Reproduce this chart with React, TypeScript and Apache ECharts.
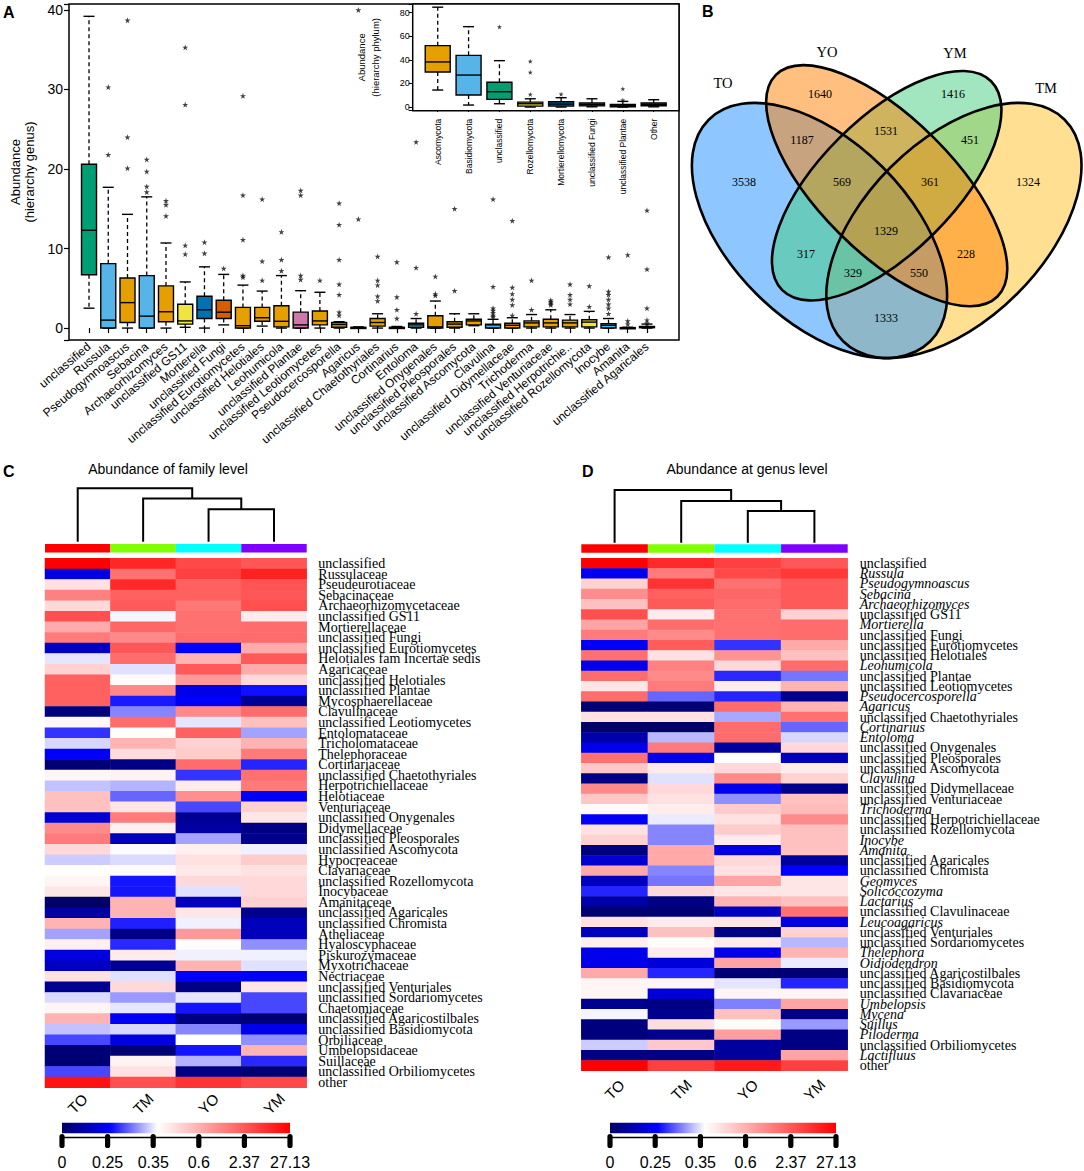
import React, { useEffect, useRef } from 'react';
import * as echarts from 'echarts';

// ---------- Panel A: genus boxplot ----------
const genusCategories = ['unclassified','Russula','Pseudogymnoascus','Sebacina','Archaeorhizomyces','unclassified GS11','Mortierella','unclassified Fungi','unclassified Eurotiomycetes','unclassified Helotiales','Leohumicola','unclassified Plantae','unclassified Leotiomycetes','Pseudocercosporella','Agaricus','unclassified Chaetothyriales','Cortinarius','Entoloma','unclassified Onygenales','unclassified Pleosporales','unclassified Ascomycota','Clavulina','unclassified Didymellaceae','Trichoderma','unclassified Venturiaceae','unclassified Herpotrichie..','unclassified Rozellomycota','Inocybe','Amanita','unclassified Agaricales'];
// [min, Q1, median, Q3, max]
const genusBoxes = [
  [2.5, 6.7, 12.3, 20.6, 39.2],[0, 0, 1.0, 8.1, 17.7],[0, 0.7, 3.2, 6.3, 14.3],[0, 0, 1.5, 6.6, 16.5],[0, 0.8, 2.05, 5.3, 10.7],
  [0.1, 0.5, 0.9, 3.0, 5.8],[0, 1.2, 2.3, 4.0, 7.7],[0.4, 1.2, 2.0, 3.5, 6.75],[0, 0, 0.3, 2.6, 5.4],[0.25, 0.85, 1.3, 2.6, 4.65],
  [0, 0.15, 0.85, 2.8, 6.6],[0, 0, 0.4, 2.0, 4.7],[0, 0.4, 0.9, 2.15, 4.5],[0, 0.1, 0.45, 0.7, 0.8],[0, 0, 0.05, 0.1, 0.15],
  [0, 0.25, 0.7, 1.2, 1.8],[0, 0, 0.05, 0.1, 0.2],[0, 0.1, 0.4, 0.6, 1.2],[0, 0, 0.15, 1.55, 3.4],[0, 0.1, 0.5, 0.8, 1.8],
  [0.3, 0.4, 0.9, 1.1, 1.8],[0, 0, 0.4, 0.5, 1.1],[0, 0, 0.35, 0.6, 1.3],[0, 0.15, 0.65, 0.9, 1.7],[0, 0.15, 0.65, 1.1, 2.3],
  [0, 0.15, 0.65, 1.0, 1.7],[0, 0.15, 0.75, 1.05, 2.1],[0, 0, 0.35, 0.55, 1.2],[0, 0, 0.03, 0.06, 0.1],[0, 0.05, 0.1, 0.2, 0.5],
];
const genusOutliers = [
  [],[30.3, 21.8],[38.7, 24.0, 20.1],[21.2, 19.7, 17.8, 17.1],[16.0, 15.5, 14.1],
  [35.3, 28.1, 10.4, 9.3],[10.8, 9.4],[7.5],[29.2, 16.7, 11.1, 6.6, 6.4],[16.2, 8.4, 6.0],
  [12.1, 8.6, 7.2],[17.3, 16.7, 6.6, 6.1],[6.0],[15.7, 13.0, 8.6, 5.5, 4.2, 2.0, 1.6],[40.0, 13.7],
  [9.0, 6.0, 5.4, 4.0, 3.4],[8.3, 3.9, 2.3, 1.2],[23.4, 7.6, 1.8],[6.5, 4.3, 4.1],[15.0, 4.7],
  [],[16.2, 5.2, 2.5, 2.2, 1.9, 1.6, 1.4],[13.5, 5.1, 4.3, 3.6, 2.9, 1.6],[6.0, 2.3],[3.5, 3.3, 3.1, 2.9],
  [5.5, 4.2, 3.6, 3.0],[5.3, 2.7],[8.9, 4.6, 4.2, 3.6, 3.0, 2.5, 1.8],[9.2, 0.9, 0.5],[14.8, 7.4, 2.5, 1.0, 0.6],
];
const genusGroup = ['green','lblue','orange','lblue','orange','yellow','blue','verm','orange','orange','orange','pink','orange','orange','lblue','orange','lblue','lblue','orange','orange','orange','lblue','orange','orange','orange','orange','yellow','lblue','lblue','lblue'];
const genusTicks = [0, 10, 20, 30, 40];

// ---------- Panel A inset: phylum boxplot ----------
const phylumCategories = ['Ascomycota','Basidiomycota','unclassified','Rozellomycota','Mortierellomycota','unclassified Fungi','unclassified Plantae','Other'];
const phylumBoxes = [
  [14.4, 29.7, 38.2, 52.0, 84.6],[1.7, 10.2, 27.1, 43.8, 68.1],[2.8, 6.5, 13.0, 21.0, 39.3],[0, 0.8, 2.8, 4.2, 7.0],
  [0, 0.8, 2.5, 4.5, 7.9],[0.2, 1.0, 2.0, 3.4, 7.0],[0, 0.3, 1.1, 2.3, 4.8],[0.2, 1.1, 2.3, 3.4, 6.2],
];
const phylumOutliers = [[], [], [67.9], [38.7, 29.4, 10.7], [10.9], [], [15.5, 5.9], []];
const phylumGroup = ['orange','lblue','green','yellow','blue','verm','pink','grey'];

// ---------- Panel B: Venn ----------
const vennSets = ['TO', 'YO', 'YM', 'TM'];
const vennCounts = [3538, 1640, 1416, 1324, 1187, 1531, 451, 569, 361, 1329, 317, 228, 329, 550, 1333];

// ---------- Panels C / D: heatmaps ----------
const sampleGroups = ['TO', 'TM', 'YO', 'YM'];
const colorBarTicks = ['0', '0.25', '0.35', '0.6', '2.37', '27.13'];
// dendrogram merge heights: (YO,YM), (TM,(YO,YM)), (TO,rest)
const dendroFamily = [0.61, 0.81, 1.0];
const dendroGenus = [0.6, 0.79, 1.0];

const familyNames = ['unclassified','Russulaceae','Pseudeurotiaceae','Sebacinaceae','Archaeorhizomycetaceae','unclassified GS11','Mortierellaceae','unclassified Fungi','unclassified Eurotiomycetes','Helotiales fam Incertae sedis','Agaricaceae','unclassified Helotiales','unclassified Plantae','Mycosphaerellaceae','Clavulinaceae','unclassified Leotiomycetes','Entolomataceae','Tricholomataceae','Thelephoraceae','Cortinariaceae','unclassified Chaetothyriales','Herpotrichiellaceae','Helotiaceae','Venturiaceae','unclassified Onygenales','Didymellaceae','unclassified Pleosporales','unclassified Ascomycota','Hypocreaceae','Clavariaceae','unclassified Rozellomycota','Inocybaceae','Amanitaceae','unclassified Agaricales','unclassified Chromista','Atheliaceae','Hyaloscyphaceae','Piskurozymaceae','Myxotrichaceae','Nectriaceae','unclassified Venturiales','unclassified Sordariomycetes','Chaetomiaceae','unclassified Agaricostilbales','unclassified Basidiomycota','Orbiliaceae','Umbelopsidaceae','Suillaceae','unclassified Orbiliomycetes','other'];
// colour-scale position (-1 dark blue ... 0 white ... 1 red) for TO, TM, YO, YM
const familyHeat = [
  [1.0, 0.85, 0.72, 0.66],[-0.6, 0.56, 0.75, 0.87],[0.12, 0.84, 0.62, 0.67],[0.5, 0.62, 0.62, 0.66],[0.15, 0.65, 0.53, 0.69],
  [0.69, -0.02, 0.56, 0.08],[0.33, 0.6, 0.56, 0.58],[0.52, 0.47, 0.58, 0.58],[-0.7, 0.66, -0.5, 0.33],[-0.05, 0.58, 0.3, 0.65],
  [0.18, -0.06, 0.65, 0.33],[0.62, 0.02, 0.4, 0.15],[0.62, 0.47, -0.58, -0.47],[0.62, -0.45, -0.52, -0.85],[-0.92, -0.24, 0.47, 0.58],
  [0.03, 0.58, -0.05, 0.25],[-0.4, 0.01, 0.62, -0.18],[-0.08, 0.3, 0.18, 0.3],[-0.52, 0.14, 0.2, 0.52],[-0.95, -0.9, 0.58, -0.43],
  [0.04, 0.05, -0.4, 0.56],[-0.12, -0.15, 0.08, 0.52],[0.25, -0.3, 0.44, -0.53],[0.25, 0.1, -0.36, 0.18],[-0.65, 0.52, -0.85, 0.1],
  [0.46, 0.06, -0.8, -0.9],[0.52, -0.72, -0.18, -0.87],[0.15, -0.01, 0.06, -0.03],[-0.1, -0.07, 0.12, 0.2],[0, 0.02, 0.09, 0.12],
  [0.04, -0.46, 0.15, 0.15],[0.1, -0.46, -0.06, 0.15],[-1.0, 0.3, -0.72, 0.18],[-0.8, 0.3, 0.1, -0.87],[0.3, -0.44, -0.03, -0.72],
  [-0.18, -0.9, 0.4, -0.72],[0.06, -0.42, 0.01, -0.22],[-0.6, 0.08, -0.03, -0.03],[-0.7, -0.85, 0.3, -0.06],[0.12, -0.06, -0.5, -0.53],
  [-0.87, 0.15, -0.9, 0.1],[-0.07, -0.2, -0.05, -0.36],[0.04, -0.05, -0.46, -0.36],[0.3, -0.53, -0.9, -0.95],[-0.12, -0.08, -0.24, -0.56],
  [-0.36, -0.6, 0, -0.22],[-0.95, -0.95, -0.46, 0.3],[-0.95, 0.05, -0.15, -0.42],[-0.36, 0.12, -0.9, -0.95],[0.93, 0.69, 0.8, 0.72],
];

const genusNames = ['unclassified','Russula','Pseudogymnoascus','Sebacina','Archaeorhizomyces','unclassified GS11','Mortierella','unclassified Fungi','unclassified Eurotiomycetes','unclassified Helotiales','Leohumicola','unclassified Plantae','unclassified Leotiomycetes','Pseudocercosporella','Agaricus','unclassified Chaetothyriales','Cortinarius','Entoloma','unclassified Onygenales','unclassified Pleosporales','unclassified Ascomycota','Clavulina','unclassified Didymellaceae','unclassified Venturiaceae','Trichoderma','unclassified Herpotrichiellaceae','unclassified Rozellomycota','Inocybe','Amanita','unclassified Agaricales','unclassified Chromista','Geomyces','Solicoccozyma','Lactarius','unclassified Clavulinaceae','Leucoagaricus','unclassified Venturiales','unclassified Sordariomycetes','Thelephora','Oidiodendron','unclassified Agaricostilbales','unclassified Basidiomycota','unclassified Clavariaceae','Umbelopsis','Mycena','Suillus','Piloderma','unclassified Orbiliomycetes','Lactifluus','other'];
const genusHeat = [
  [1.0, 0.84, 0.75, 0.66],[-0.55, 0.52, 0.72, 0.78],[0.18, 0.8, 0.56, 0.65],[0.45, 0.62, 0.6, 0.65],[0.25, 0.65, 0.58, 0.65],
  [0.69, 0.08, 0.56, 0.18],[0.36, 0.58, 0.56, 0.58],[0.52, 0.46, 0.56, 0.58],[-0.52, 0.64, -0.4, 0.34],[0.56, 0.12, 0.43, 0.25],
  [-0.57, 0.5, 0.15, 0.58],[0.58, 0.46, -0.42, -0.27],[0.1, 0.52, 0.07, 0.3],[0.58, -0.3, -0.43, -0.87],[-0.95, -0.95, 0.58, 0.3],
  [0.12, 0.12, -0.17, 0.56],[-1.0, -1.0, 0.58, -0.3],[-0.78, -0.14, 0.58, -0.08],[-0.57, 0.52, -0.82, 0.15],[0.56, -0.57, 0, -0.72],
  [0.22, 0.08, 0.15, 0.08],[-0.9, -0.06, 0.46, 0.18],[0.46, 0.15, -0.57, -0.87],[0.22, 0.12, -0.22, 0.25],[0.02, 0.07, 0.2, 0.27],
  [-0.52, -0.04, 0.12, 0.46],[0.12, -0.24, 0.2, 0.25],[0.18, -0.24, 0.08, 0.25],[-0.92, 0.34, -0.6, 0.25],[-0.65, 0.34, 0.15, -0.82],
  [0.34, -0.24, 0.12, -0.5],[-0.72, -0.27, 0.36, 0.1],[-0.43, 0.15, 0.1, 0.1],[-0.78, -0.9, 0.3, 0.25],[-0.95, -0.95, -0.7, 0.56],
  [0.12, 0.08, 0.1, -0.6],[-0.72, 0.25, -0.9, 0.18],[0.06, 0.01, 0.08, -0.14],[-0.57, 0.08, -0.57, 0.3],[-0.57, -0.62, 0.36, -0.04],
  [0.34, -0.43, -0.95, -0.95],[0.04, 0.04, -0.05, -0.43],[0.04, -0.62, 0.04, 0.04],[-0.87, -0.9, -0.25, 0.36],[-0.02, -0.87, 0.25, -0.9],
  [-0.92, 0.13, 0.01, -0.2],[-0.92, -0.87, 0.38, -0.9],[-0.1, 0.22, -0.82, -0.9],[-0.9, -0.9, -0.82, 0.36],[1.0, 0.75, 0.9, 0.75],
];
const italicGenera = ['Russula','Pseudogymnoascus','Sebacina','Archaeorhizomyces','Mortierella','Leohumicola','Pseudocercosporella','Agaricus','Cortinarius','Entoloma','Clavulina','Trichoderma','Inocybe','Amanita','Geomyces','Solicoccozyma','Lactarius','Leucoagaricus','Thelephora','Oidiodendron','Umbelopsis','Mycena','Suillus','Piloderma','Lactifluus'];

// ---------- styles ----------
const PAL: Record<string, string> = { green: '#009E73', lblue: '#56B4E9', orange: '#E69F00', yellow: '#F0E442', blue: '#0072B2', verm: '#D55E00', pink: '#CC79A7', grey: '#999999' };
const SANS = 'Liberation Sans, Arial, sans-serif';
const SERIF = 'Liberation Serif, Times New Roman, serif';
const HEAT_COLORS = ['#000066', '#0000FF', '#FFFFFF', '#FF8080', '#FF0000'];
const GROUP_COLORS = ['#FF0000', '#80FF00', '#00FFFF', '#8000FF'];
const STAR = 'path://M0,-1L0.22,-0.31L0.95,-0.31L0.36,0.12L0.59,0.81L0,0.38L-0.59,0.81L-0.36,0.12L-0.95,-0.31L-0.22,-0.31Z';

const makeBoxRender = (colors: string[], boxW: number, capW: number) => (params: any, api: any) => {
  const idx = api.value(0);
  const x = api.coord([idx, 0])[0];
  const y = (d: number) => api.coord([idx, api.value(d)])[1];
  const yMin = y(1), yQ1 = y(2), yMed = y(3), yQ3 = y(4), yMax = y(5);
  const solid = { stroke: '#000', lineWidth: 1.4 };
  const dash = { stroke: '#000', lineWidth: 1.3, lineDash: [4, 3] };
  return {
    type: 'group',
    children: [
      { type: 'line', shape: { x1: x, y1: yQ3, x2: x, y2: yMax }, style: dash },
      { type: 'line', shape: { x1: x, y1: yQ1, x2: x, y2: yMin }, style: dash },
      { type: 'line', shape: { x1: x - capW / 2, y1: yMax, x2: x + capW / 2, y2: yMax }, style: solid },
      { type: 'line', shape: { x1: x - capW / 2, y1: yMin, x2: x + capW / 2, y2: yMin }, style: solid },
      { type: 'rect', shape: { x: x - boxW / 2, y: yQ3, width: boxW, height: Math.max(yQ1 - yQ3, 1.2) }, style: { fill: colors[params.dataIndex], stroke: '#000', lineWidth: 1.4 } },
      { type: 'line', shape: { x1: x - boxW / 2, y1: yMed, x2: x + boxW / 2, y2: yMed }, style: solid },
    ],
  };
};

const dendroSegments = (h: number[]) => [
  [[2, 0], [2, h[0]], [3, h[0]], [3, 0]],
  [[1, 0], [1, h[1]], [2.5, h[1]], [2.5, h[0]]],
  [[0, 0], [0, h[2]], [1.75, h[2]], [1.75, h[1]]],
];

function buildOption() {
  const grids: any[] = [];
  const xAxes: any[] = [];
  const yAxes: any[] = [];
  const series: any[] = [];
  const hidden = (gi: number, extra: any = {}) => ({ gridIndex: gi, show: false, ...extra });

  // grid 0: panel A frame
  grids.push({ left: 57, top: 4, width: 622, height: 336, show: true, borderColor: '#000', borderWidth: 1.5, backgroundColor: 'transparent' });
  xAxes.push(hidden(0, { type: 'value', min: 0, max: 1 }));
  yAxes.push({
    gridIndex: 0, type: 'value', min: -1.5, max: 40.75, splitNumber: 4,
    axisLine: { show: false }, splitLine: { show: false },
    axisTick: { show: true, length: 5, lineStyle: { color: '#000', width: 1.2 } },
    axisLabel: { color: '#000', fontSize: 14, fontFamily: SANS, margin: 6, formatter: (v: number) => (genusTicks.includes(v) ? String(v) : '') },
    name: 'Abundance\n(hierarchy genus)', nameLocation: 'middle', nameRotate: 90, nameGap: 33,
    nameTextStyle: { color: '#000', fontSize: 13, fontFamily: SANS, lineHeight: 14 },
  });
  // grid 1: panel A boxes
  grids.push({ left: 79.4, top: 4, width: 577.2, height: 336 });
  xAxes.push({
    gridIndex: 1, type: 'category', data: genusCategories,
    axisLine: { show: false },
    axisTick: { show: true, alignWithLabel: true, length: 5, lineStyle: { color: '#000', width: 1.2 } },
    axisLabel: { interval: 0, rotate: 40, fontSize: 12, fontFamily: SANS, color: '#000', margin: 5 },
  });
  yAxes.push(hidden(1, { type: 'value', min: -1.5, max: 40.75 }));
  series.push({
    type: 'custom', xAxisIndex: 1, yAxisIndex: 1, clip: false,
    renderItem: makeBoxRender(genusGroup.map((g) => PAL[g]), 15, 11),
    encode: { x: 0, y: [1, 2, 3, 4, 5] },
    data: genusBoxes.map((b, i) => [i, ...b]),
  });
  series.push({
    type: 'scatter', xAxisIndex: 1, yAxisIndex: 1, symbol: STAR, symbolSize: 6,
    itemStyle: { color: '#111' },
    data: genusOutliers.flatMap((arr, i) => arr.map((v) => [i, v])),
  });

  // grid 2: inset frame
  grids.push({ left: 412.7, top: 4, width: 266.3, height: 106.7, show: true, borderColor: '#000', borderWidth: 1.5, backgroundColor: '#fff', z: 5 });
  xAxes.push(hidden(2, { type: 'value', min: 0, max: 1 }));
  yAxes.push({
    gridIndex: 2, type: 'value', min: -3.1, max: 87.3, splitNumber: 4,
    axisLine: { show: false }, splitLine: { show: false },
    axisTick: { show: true, length: 4, lineStyle: { color: '#000', width: 1 } },
    axisLabel: { color: '#000', fontSize: 9, fontFamily: SANS, margin: 3, formatter: (v: number) => (Math.abs(v % 20) < 1e-6 ? String(v) : '') },
    name: 'Abundance\n(hierarchy phylum)', nameLocation: 'middle', nameRotate: 90, nameGap: 30,
    nameTextStyle: { color: '#000', fontSize: 9.5, fontFamily: SANS, lineHeight: 14 },
  });
  // grid 3: inset boxes
  grids.push({ left: 422.3, top: 4, width: 246.8, height: 106.7 });
  xAxes.push({
    gridIndex: 3, type: 'category', data: phylumCategories,
    axisLine: { show: false },
    axisTick: { show: true, alignWithLabel: true, length: 5, lineStyle: { color: '#000', width: 1 } },
    axisLabel: { interval: 0, rotate: 90, fontSize: 8.5, fontFamily: SANS, color: '#000', margin: 8 },
  });
  yAxes.push(hidden(3, { type: 'value', min: -3.1, max: 87.3 }));
  series.push({
    type: 'custom', xAxisIndex: 3, yAxisIndex: 3, clip: false, z: 6,
    renderItem: makeBoxRender(phylumGroup.map((g) => PAL[g]), 25, 11),
    encode: { x: 0, y: [1, 2, 3, 4, 5] },
    data: phylumBoxes.map((b, i) => [i, ...b]),
  });
  series.push({
    type: 'scatter', xAxisIndex: 3, yAxisIndex: 3, symbol: STAR, symbolSize: 5, z: 6,
    itemStyle: { color: '#111' },
    data: phylumOutliers.flatMap((arr, i) => arr.map((v) => [i, v])),
  });

  // heatmaps
  const heatPanels = [
    { left: 45, width: 261.7, top: 558.3, height: 529.4, names: familyNames, values: familyHeat, dendro: dendroFamily, labelMargin: 11.6, xMargin: 16, dTop: 488.3, dBottom: 541.7, barTop: 544, italic: false },
    { left: 581.3, width: 266.4, top: 558.3, height: 512.4, names: genusNames, values: genusHeat, dendro: dendroGenus, labelMargin: 12, xMargin: 19, dTop: 490, dBottom: 542.7, barTop: 544.3, italic: true },
  ];
  const heatSeriesIdx: number[] = [];
  heatPanels.forEach((p) => {
    const gi = grids.length;
    grids.push({ left: p.left, top: p.top, width: p.width, height: p.height });
    xAxes.push({
      gridIndex: gi, type: 'category', data: sampleGroups,
      axisLine: { show: false }, axisTick: { show: false }, splitLine: { show: false },
      axisLabel: { rotate: 45, align: 'center', verticalAlign: 'middle', margin: p.xMargin, fontSize: 15, fontFamily: SANS, color: '#000' },
    });
    yAxes.push({
      gridIndex: gi, type: 'category', data: p.names, inverse: true, position: 'right',
      axisLine: { show: false }, axisTick: { show: false }, splitLine: { show: false },
      axisLabel: p.italic
        ? {
            interval: 0, margin: p.labelMargin, color: '#000',
            formatter: (v: string) => (italicGenera.includes(v) ? `{i|${v}}` : `{n|${v}}`),
            rich: {
              i: { fontStyle: 'italic', fontFamily: SERIF, fontSize: 14, color: '#000' },
              n: { fontFamily: SERIF, fontSize: 14, color: '#000' },
            },
          }
        : { interval: 0, margin: p.labelMargin, fontSize: 14, fontFamily: SERIF, color: '#000' },
    });
    heatSeriesIdx.push(series.length);
    series.push({
      type: 'heatmap', xAxisIndex: gi, yAxisIndex: gi,
      data: p.values.flatMap((row, r) => row.map((v, c) => [c, r, v])),
      itemStyle: { borderWidth: 0 },
    });

    // dendrogram grid
    const dg = grids.length;
    const perUnit = p.dBottom - p.dTop;
    grids.push({ left: p.left, width: p.width, top: p.dBottom - perUnit * 1.05, height: perUnit * 1.05 });
    xAxes.push(hidden(dg, { type: 'value', min: -0.5, max: 3.5 }));
    yAxes.push(hidden(dg, { type: 'value', min: 0, max: 1.05 }));
    series.push({
      type: 'lines', coordinateSystem: 'cartesian2d', xAxisIndex: dg, yAxisIndex: dg, polyline: true, silent: true,
      lineStyle: { color: '#000', width: 2, opacity: 1 },
      data: dendroSegments(p.dendro).map((c) => ({ coords: c })),
    });

    // group colour bar
    const bg = grids.length;
    grids.push({ left: p.left, width: p.width, top: p.barTop, height: 8.4 });
    xAxes.push(hidden(bg, { type: 'category', data: sampleGroups }));
    yAxes.push(hidden(bg, { type: 'value', min: 0, max: 1 }));
    series.push({
      type: 'bar', xAxisIndex: bg, yAxisIndex: bg, barWidth: '100%', silent: true,
      data: sampleGroups.map((_, i) => ({ value: 1, itemStyle: { color: GROUP_COLORS[i] } })),
    });
  });

  // ---------- graphics ----------
  const graphic: any[] = [];
  const txt = (text: string, x: number, y: number, o: any = {}) => ({
    type: 'text', x, y, silent: true,
    style: { text, fill: '#000', fontSize: o.size || 14, fontFamily: o.family || SANS, fontWeight: o.weight || 'normal', align: o.align || 'center', verticalAlign: 'middle' },
  });
  graphic.push(txt('A', 3, 12, { size: 16, weight: 'bold', align: 'left' }));
  graphic.push(txt('B', 702, 11, { size: 16, weight: 'bold', align: 'left' }));
  graphic.push(txt('C', 3, 471, { size: 16, weight: 'bold', align: 'left' }));
  graphic.push(txt('D', 582, 471, { size: 16, weight: 'bold', align: 'left' }));
  graphic.push(txt('Abundance of family level', 168, 469, { size: 14 }));
  graphic.push(txt('Abundance at genus level', 747, 469, { size: 14 }));

  // Venn ellipses: TM, TO, YM, YO draw order
  const D = Math.PI / 4;
  const ell: Record<string, any> = {
    TO: { cx: 819.5, cy: 230.5, rx: 156.7, ry: 89.5, rot: -D, fill: 'rgba(30,144,255,0.5)' },
    YO: { cx: 886.7, cy: 185.7, rx: 156.7, ry: 67.2, rot: -D, fill: 'rgba(255,127,0,0.5)' },
    YM: { cx: 886.7, cy: 185.7, rx: 147.7, ry: 67.2, rot: D, fill: 'rgba(67,205,128,0.5)' },
    TM: { cx: 953.9, cy: 230.5, rx: 156.7, ry: 89.5, rot: D, fill: 'rgba(255,193,37,0.5)' },
  };
  const order = ['TM', 'TO', 'YM', 'YO'];
  order.forEach((k) => {
    const e = ell[k];
    graphic.push({ type: 'ellipse', x: e.cx, y: e.cy, rotation: e.rot, silent: true, shape: { cx: 0, cy: 0, rx: e.rx, ry: e.ry }, style: { fill: e.fill, stroke: 'none' } });
  });
  order.forEach((k) => {
    const e = ell[k];
    graphic.push({ type: 'ellipse', x: e.cx, y: e.cy, rotation: e.rot, silent: true, shape: { cx: 0, cy: 0, rx: e.rx, ry: e.ry }, style: { fill: 'none', stroke: '#000', lineWidth: 2.6 } });
  });
  const setLabelPos = [[723, 83], [827, 52], [955, 53], [1046, 88]];
  vennSets.forEach((s, i) => graphic.push(txt(s, setLabelPos[i][0], setLabelPos[i][1], { size: 14.5, family: SERIF })));
  const countPos = [[744, 182], [820, 94], [953, 94], [1028, 182], [802, 140], [886, 131], [970, 140], [842, 182], [930, 182], [886, 231], [806, 254], [966, 254], [853, 273], [919, 273], [886, 318]];
  vennCounts.forEach((c, i) => graphic.push(txt(String(c), countPos[i][0], countPos[i][1], { size: 12, family: SERIF })));

  // colour keys
  const keys = [{ left: 62, width: 228 }, { left: 610, width: 226 }];
  keys.forEach((k) => {
    graphic.push({
      type: 'rect', silent: true, shape: { x: k.left, y: 1122.7, width: k.width, height: 10.6 },
      style: {
        fill: new echarts.graphic.LinearGradient(0, 0, 1, 0, [
          { offset: 0, color: HEAT_COLORS[0] }, { offset: 0.21, color: HEAT_COLORS[1] }, { offset: 0.42, color: HEAT_COLORS[2] },
          { offset: 0.71, color: HEAT_COLORS[3] }, { offset: 1, color: HEAT_COLORS[4] },
        ]),
      },
    });
    graphic.push({ type: 'line', silent: true, shape: { x1: k.left, y1: 1137.5, x2: k.left + k.width, y2: 1137.5 }, style: { stroke: '#000', lineWidth: 1.5 } });
    colorBarTicks.forEach((t, i) => {
      const x = k.left + (k.width * i) / (colorBarTicks.length - 1);
      graphic.push({ type: 'rect', silent: true, shape: { x: x - 2.6, y: 1134, width: 5.2, height: 14, r: 2.6 }, style: { fill: '#000' } });
      graphic.push(txt(t, x, 1162, { size: 16 }));
    });
  });

  return {
    animation: false,
    backgroundColor: '#fff',
    grid: grids,
    xAxis: xAxes,
    yAxis: yAxes,
    visualMap: { type: 'continuous', show: false, min: -1, max: 1, dimension: 2, seriesIndex: heatSeriesIdx, inRange: { color: HEAT_COLORS } },
    series,
    graphic,
  };
}

export default function App() {
  const ref = useRef<HTMLDivElement>(null);
  useEffect(() => {
    if (!ref.current) return;
    const chart = echarts.init(ref.current, undefined, { renderer: 'svg' });
    chart.setOption(buildOption() as any);
    return () => chart.dispose();
  }, []);
  return <div ref={ref} style={{ position: 'absolute', left: 0, top: 0, width: 1084, height: 1171 }} />;
}
